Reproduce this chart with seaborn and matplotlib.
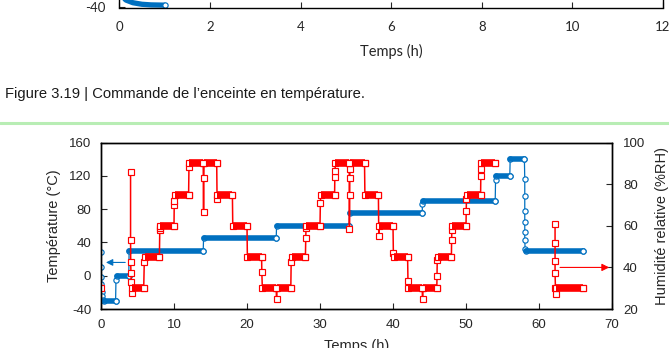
import matplotlib
matplotlib.use('Agg')
import matplotlib.pyplot as plt
from matplotlib.lines import Line2D
import seaborn as sns
import numpy as np
import pandas as pd

BLUE = '#0070C0'
RED = '#FF0000'
W, H = 669, 348

# bottom of the previous figure (cut by the page)
prev_time = [0.05, 0.15, 0.3, 0.5, 0.7, 1.0]
prev_temp = [-27, -31.5, -34.5, -36.3, -37, -37.3]
prev_xticks = [0, 2, 4, 6, 8, 10, 12]

# temperature command (°C), left axis
temp_time = [0.0, 0.0, 0.02, 0.05, 0.1, 0.15, 0.25, 0.4, 2.0, 2.05, 2.15, 3.8,
             3.85, 14.0, 14.05, 24.0, 24.05, 34.0, 34.05, 44.0, 44.03, 44.1,
             54.0, 54.05, 54.1, 56.0, 56.05, 58.0, 58.05, 58.05, 58.05, 58.05,
             58.05, 58.05, 58.1, 58.2, 66.0]
temp_val = [29, 11, -1, -10, -20, -24, -29, -30, -30, -5, 0, 0,
            30, 30, 45, 45, 60, 60, 75, 75, 86, 90,
            90, 115, 120, 120, 140, 140, 116, 96, 78, 65,
            53, 43, 32, 30, 30]

# humidity command (%RH), right axis; nan = gap in the record
hum_time = [0.0, np.nan,
            4.05, 4.05, 4.07, 4.1, 4.15, 4.25, 4.3, 5.85, 5.93, 6.0, 8.0,
            8.05, 8.08, 8.1, 10.0, 10.03, 10.06, 10.1, 12.0, 12.05, 12.1, 14.0,
            14.05, 14.08, 14.12, 15.85, 15.9, 15.95, 18.0, 18.05, 20.0, 20.05,
            22.0, 22.03, 22.1, 24.0, 24.05, 24.1, 26.0, 26.05, 26.1, 28.0,
            28.05, 28.08, 28.1, 30.0, 30.05, 30.1, 32.0, 32.03, 32.06, 32.1,
            34.0, 34.03, 34.06, 34.08, 34.1, 34.15, 36.1, 36.15, 38.0, 38.05,
            38.1, 40.0, 40.05, 40.1, 42.0, 42.05, 42.1, 44.0, 44.05, 44.1,
            46.0, 46.03, 46.06, 46.1, 48.0, 48.03, 48.06, 48.1, 50.0, 50.03,
            50.06, 50.1, 52.0, 52.03, 52.06, 52.1, 54.0, np.nan,
            62.2, 62.2, 62.2, 62.2, 62.25, 62.3, 62.35, 66.0]
hum_val = [30, np.nan,
           85.7, 53.2, 42.8, 37.5, 33.2, 27.6, 30, 30, 42.8, 45, 45,
           58, 58.8, 60, 60, 70, 72, 75, 75, 88.5, 90, 90,
           66.5, 83.2, 90, 90, 73, 75, 75, 60, 60, 45,
           45, 38, 30, 30, 24.7, 30, 30, 42.5, 45, 45,
           54, 58.8, 60, 60, 71, 75, 75, 83.4, 86.4, 90,
           90, 58.3, 74.9, 82.9, 87.2, 90, 90, 75, 75, 55.3,
           60, 60, 46.8, 45, 45, 33.6, 30, 30, 24.8, 30,
           30, 35.9, 43.6, 45, 45, 53.2, 58, 60, 60, 67.1,
           72.8, 75, 75, 84, 87.2, 90, 90, np.nan,
           60.9, 51.9, 43.2, 37.5, 30, 27.2, 30, 30]


def to_frame(t, v):
    df = pd.DataFrame({'t': t, 'v': v})
    df['seg'] = df['v'].isna().cumsum()
    return df.dropna().reset_index(drop=True)


def plateaus(df):
    rows = []
    for i in range(len(df) - 1):
        a, b = df.iloc[i], df.iloc[i + 1]
        if a.seg == b.seg and a.v == b.v and b.t - a.t > 0.3:
            rows.append((a.t, b.t, a.v))
    return pd.DataFrame(rows, columns=['t0', 't1', 'v'])


def draw_series(ax, df, color, marker, ms, lw, thick, capstyle):
    sns.lineplot(data=df, x='t', y='v', units='seg', estimator=None, sort=False,
                 color=color, lw=lw, marker=marker, markersize=ms,
                 markerfacecolor='white', markeredgecolor=color,
                 markeredgewidth=0.85, ax=ax, zorder=2)
    pl = plateaus(df)
    ax.hlines(pl['v'], pl['t0'], pl['t1'], color=color, lw=thick,
              capstyle=capstyle, zorder=3)
    ax.plot(pl['t1'], pl['v'], ls='none', marker=marker, ms=ms,
            mfc='white', mec=color, mew=0.85, zorder=4)


sns.set_style('ticks')
plt.rcParams['font.family'] = ['Liberation Sans', 'DejaVu Sans']
plt.rcParams['axes.unicode_minus'] = False

fig = plt.figure(figsize=(W / 100, H / 100), dpi=100)

# ---- remnant of previous figure
ax0 = fig.add_axes([119.3 / W, 1 - 7.5 / H, (663 - 119.3) / W, 0.5])
sns.lineplot(x=prev_time, y=prev_temp, color=BLUE, lw=3.8, ax=ax0,
             solid_capstyle='round')
ax0.plot(prev_time[-1], prev_temp[-1], 'o', ms=3.8, mfc='white', mec=BLUE, mew=0.85)
ax0.set_xlim(0, 12)
ax0.set_ylim(-40, 160)
ax0.set_xticks(prev_xticks)
ax0.set_yticks([-40])
ax0.tick_params(direction='in', length=4, width=0.8, pad=10, labelsize=9.5)
for lab in ax0.get_xticklabels() + ax0.get_yticklabels():
    lab.set_family('Lato')
for s in ax0.spines.values():
    s.set_linewidth(1)
    s.set_color('black')
fig.text(391 / W, 1 - 51 / H, 'Temps (h)', ha='center', va='center',
         fontsize=10.5, family='Lato')

fig.text(5 / W, 1 - 94 / H, 'Figure 3.19 | Commande de l’enceinte en température.',
         ha='left', va='center', fontsize=10.6, color='#1a1a1a')
fig.add_artist(Line2D([0, 1], [1 - 123 / H] * 2, transform=fig.transFigure,
                      color='#B8EDB4', lw=2.2))

# ---- main chart
ax = fig.add_axes([101 / W, 1 - 309 / H, 511 / W, 166.3 / H])
ax2 = ax.twinx()

temp = to_frame(temp_time, temp_val)
hum = to_frame(hum_time, hum_val)
draw_series(ax, temp, BLUE, 'o', 3.8, 0.9, 4.0, 'round')
draw_series(ax2, hum, RED, 's', 4.0, 1.1, 5.5, 'butt')

ax.annotate('', xy=(0.3, 16), xytext=(3.7, 16),
            arrowprops=dict(arrowstyle='-|>', color=BLUE, lw=0.8, mutation_scale=10))
ax2.annotate('', xy=(70, 40), xytext=(62.5, 40),
             arrowprops=dict(arrowstyle='-|>', color=RED, lw=0.8, mutation_scale=11))

ax.set_xlim(0, 70)
ax.set_ylim(-40, 160)
ax2.set_ylim(20, 100)
ax.set_xticks(range(0, 71, 10))
ax.set_yticks(range(-40, 161, 40))
ax2.set_yticks(range(20, 101, 20))
ax.set_xlabel('Temps (h)', fontsize=10.5, labelpad=6)
ax.set_ylabel('Température (°C)', fontsize=10.5, labelpad=6)
ax2.set_ylabel('Humidité relative (%RH)', fontsize=10.5, labelpad=7)
ax.tick_params(direction='in', length=4, width=0.8, pad=7, labelsize=9.5)
ax2.tick_params(direction='in', length=4, width=0.8, pad=8, labelsize=9.5)
for a in (ax, ax2):
    for s in a.spines.values():
        s.set_linewidth(1)
        s.set_color('black')

fig.savefig('out.png', dpi=100)
